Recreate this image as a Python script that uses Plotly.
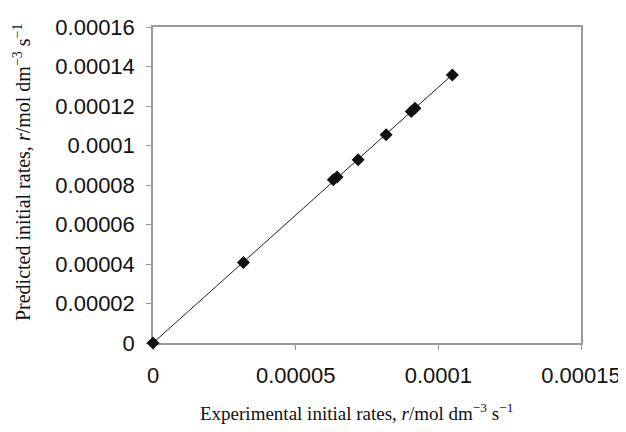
import plotly.graph_objects as go

# Data
experimental = [0.0, 0.0000317, 0.0000632, 0.0000645, 0.0000719, 0.0000817, 0.0000905, 0.0000918, 0.0001049]
predicted = [0.0, 0.0000408, 0.0000826, 0.0000840, 0.0000928, 0.0001054, 0.0001172, 0.0001188, 0.0001357]

x_tickvals = [0, 0.00005, 0.0001, 0.00015]
x_ticktext = ["0", "0.00005", "0.0001", "0.00015"]
y_tickvals = [0, 0.00002, 0.00004, 0.00006, 0.00008, 0.0001, 0.00012, 0.00014, 0.00016]
y_ticktext = ["0", "0.00002", "0.00004", "0.00006", "0.00008", "0.0001", "0.00012", "0.00014", "0.00016"]

x_title = "Experimental initial rates, <i>r</i>/mol dm<sup>−3</sup> s<sup>−1</sup>"
y_title = "Predicted initial rates, <i>r</i>/mol dm<sup>−3</sup> s<sup>−1</sup>"

# Trend line through origin (least squares)
sxy = sum(a * b for a, b in zip(experimental, predicted))
sxx = sum(a * a for a in experimental)
slope = sxy / sxx
line_x = [0.0, max(experimental)]
line_y = [slope * v for v in line_x]

fig = go.Figure()
fig.add_trace(go.Scatter(x=line_x, y=line_y, mode="lines",
                         line=dict(color="#222222", width=1), cliponaxis=False,
                         hoverinfo="skip"))
fig.add_trace(go.Scatter(x=experimental, y=predicted, mode="markers",
                         marker=dict(symbol="diamond", size=10, color="#111111",
                                     line=dict(width=0)),
                         cliponaxis=False))

axis_common = dict(showgrid=False, zeroline=False, showline=True, linecolor="#9a9a9a",
                   linewidth=1.5, mirror=True, ticks="outside", ticklen=5,
                   tickcolor="#9a9a9a", tickwidth=1, automargin=False,
                   layer="below traces", ticklabelstandoff=7, ticklabeloverflow="allow",
                   tickfont=dict(family="Liberation Sans, Arial", size=22, color="#111111"))

# The page body has an 8px default margin, so the figure is sized/offset to compensate.
fig.update_layout(
    width=618, height=424,
    margin=dict(l=145, r=45, t=19, b=89),
    paper_bgcolor="white", plot_bgcolor="white",
    showlegend=False,
    xaxis=dict(range=[0, 0.00015], tickmode="array", tickvals=x_tickvals,
               ticktext=x_ticktext, **axis_common),
    yaxis=dict(range=[0, 0.00016], tickmode="array", tickvals=y_tickvals,
               ticktext=y_ticktext, **axis_common),
    annotations=[
        dict(text=x_title, xref="paper", yref="paper", x=0.475, y=-0.218,
             xanchor="center", yanchor="middle", showarrow=False,
             font=dict(family="Liberation Serif, Times New Roman", size=19, color="#111111")),
        dict(text=y_title, xref="paper", yref="paper", x=-0.306, y=0.541,
             xanchor="center", yanchor="middle", showarrow=False, textangle=-90,
             font=dict(family="Liberation Serif, Times New Roman", size=20, color="#111111")),
    ],
)

fig.write_html("out.html")
